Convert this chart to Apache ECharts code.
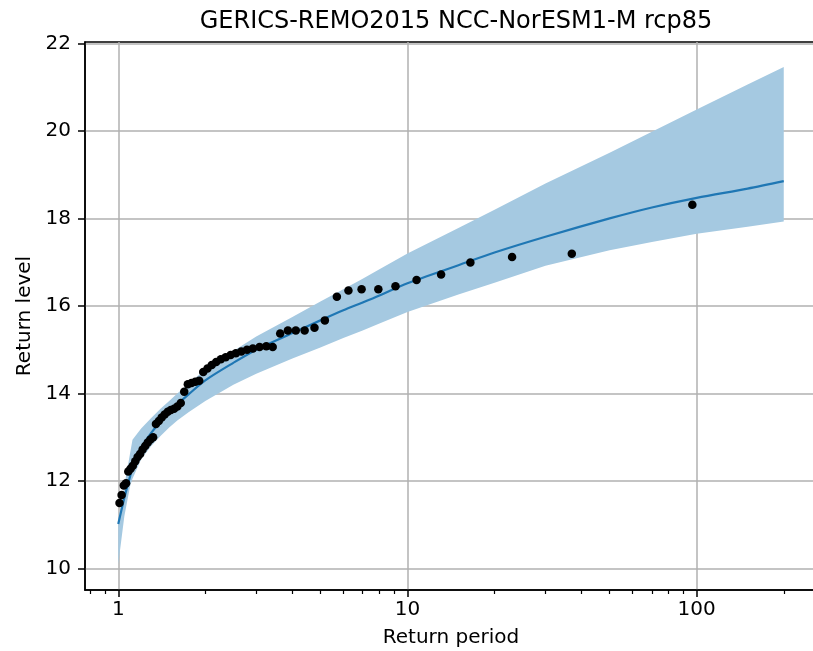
<!DOCTYPE html>
<html>
<head>
<meta charset="utf-8">
<script src="https://cdn.jsdelivr.net/npm/echarts@6/dist/echarts.min.js"></script>
<style>html,body{margin:0;padding:0;background:#fff}#c{width:813px;height:651px}</style>
</head>
<body>
<div id="c"></div>
<script>
// Fitted return-level curve and confidence band
const periods = [1.0, 1.05, 1.1, 1.12, 1.2, 1.3, 1.4, 1.5, 1.6, 1.75, 2, 2.5, 3, 4, 5, 6, 7, 8, 10, 15, 20, 30, 50, 70, 100, 150, 200];
const level   = [11.02, 11.62, 12.12, 12.32, 12.76, 13.1, 13.36, 13.57, 13.75, 13.98, 14.3, 14.7, 15.0, 15.38, 15.67, 15.9, 16.08, 16.24, 16.52, 16.93, 17.22, 17.58, 18.0, 18.25, 18.47, 18.68, 18.85];
const upper   = [11.12, 11.9, 12.65, 12.94, 13.2, 13.44, 13.65, 13.83, 14.0, 14.22, 14.55, 14.97, 15.3, 15.75, 16.1, 16.38, 16.62, 16.84, 17.2, 17.78, 18.2, 18.8, 19.5, 19.98, 20.49, 21.06, 21.46];
const lower   = [10.1, 11.2, 11.9, 12.05, 12.5, 12.8, 13.03, 13.22, 13.38, 13.57, 13.83, 14.2, 14.45, 14.8, 15.05, 15.27, 15.44, 15.6, 15.86, 16.26, 16.53, 16.92, 17.27, 17.46, 17.65, 17.81, 17.93];

// Observed annual maxima (plotting positions)
const obsPeriod = [96.6, 37.0, 23.0, 16.5, 13.07, 10.75, 9.09, 7.93, 6.94, 6.25, 5.70, 5.18, 4.77, 4.41, 4.11, 3.86, 3.63, 3.42, 3.25, 3.08, 2.92,
  2.787, 2.664, 2.551, 2.447, 2.352, 2.263, 2.181, 2.105, 2.034, 1.967, 1.905, 1.847, 1.792, 1.740, 1.691, 1.645, 1.601, 1.560, 1.520,
  1.483, 1.447, 1.413, 1.381, 1.350, 1.320, 1.292, 1.265, 1.239, 1.214, 1.190, 1.167, 1.145, 1.123, 1.103, 1.083, 1.064, 1.045, 1.027, 1.010];
const obsLevel = [18.31, 17.19, 17.12, 16.99, 16.72, 16.59, 16.45, 16.38, 16.38, 16.35, 16.21, 15.67, 15.50, 15.44, 15.44, 15.44, 15.37, 15.06, 15.08, 15.06, 15.03,
  15.00, 14.96, 14.92, 14.88, 14.83, 14.78, 14.72, 14.65, 14.57, 14.49, 14.29, 14.27, 14.24, 14.21, 14.04, 13.78, 13.70, 13.65, 13.62,
  13.58, 13.52, 13.45, 13.37, 13.30, 13.00, 12.95, 12.88, 12.80, 12.72, 12.62, 12.55, 12.45, 12.35, 12.28, 12.22, 11.95, 11.90, 11.68, 11.50];

// Axis ticks
const xMajorTicks = [1, 10, 100];
const xMinorTicks = [0.8, 0.9, 2, 3, 4, 5, 6, 7, 8, 9, 20, 30, 40, 50, 60, 70, 80, 90, 200];
const yTicks = [10, 12, 14, 16, 18, 20, 22];

const titleText = 'GERICS-REMO2015 NCC-NorESM1-M rcp85';
const xName = 'Return period';
const yName = 'Return level';

const FONT = 'DejaVu Sans';
const chart = echarts.init(document.getElementById('c'), null, {renderer: 'canvas'});

const xMin = 0.7674, xMax = 260.6, yMin = 9.51, yMax = 22.03;

chart.setOption({
  animation: false,
  backgroundColor: '#fff',
  title: {
    text: titleText, left: 451, top: 5, textAlign: 'center',
    textStyle: {fontFamily: FONT, fontSize: 24, fontWeight: 'normal', color: '#000'}
  },
  grid: {left: 85, top: 42, width: 732, height: 548, outerBoundsMode: 'none', containLabel: false,
         show: true, borderColor: '#000', borderWidth: 1.5, backgroundColor: 'transparent'},
  xAxis: [{
    type: 'log', logBase: 10, min: xMin, max: xMax,
    name: xName, nameLocation: 'middle', nameGap: 38,
    nameTextStyle: {fontFamily: FONT, fontSize: 20, color: '#000'},
    axisLine: {show: true, onZero: false, lineStyle: {color: '#000', width: 1.5}},
    axisTick: {show: true, inside: false, length: 7, lineStyle: {color: '#000', width: 1.5}, customValues: xMajorTicks},
    axisLabel: {show: true, margin: 10, fontFamily: FONT, fontSize: 20, color: '#000', customValues: xMajorTicks},
    splitLine: {show: true, lineStyle: {color: '#b0b0b0', width: 1.5}},
    minorTick: {show: false}, minorSplitLine: {show: false}
  }, {
    type: 'log', logBase: 10, min: xMin, max: xMax, position: 'bottom',
    axisLine: {show: false},
    axisTick: {show: true, inside: false, length: 4, lineStyle: {color: '#000', width: 1.2}, customValues: xMinorTicks},
    axisLabel: {show: false},
    splitLine: {show: false}
  }],
  yAxis: {
    type: 'value', min: yMin, max: yMax,
    name: yName, nameLocation: 'middle', nameGap: 50, nameRotate: 90,
    nameTextStyle: {fontFamily: FONT, fontSize: 20, color: '#000'},
    axisLine: {show: true, onZero: false, lineStyle: {color: '#000', width: 1.5}},
    axisTick: {show: true, inside: false, length: 7, lineStyle: {color: '#000', width: 1.5}, customValues: yTicks},
    axisLabel: {show: true, margin: 14, fontFamily: FONT, fontSize: 20, color: '#000', customValues: yTicks},
    splitLine: {show: true, lineStyle: {color: '#b0b0b0', width: 1.5}}
  },
  series: [{
    type: 'custom', silent: true, z: 1,
    data: [[periods[0], lower[0]]],
    renderItem: function (params, api) {
      const pts = [];
      for (let i = 0; i < periods.length; i++) pts.push(api.coord([periods[i], upper[i]]));
      for (let i = periods.length - 1; i >= 0; i--) pts.push(api.coord([periods[i], lower[i]]));
      return {type: 'polygon', shape: {points: pts, smooth: 0}, style: {fill: '#a5c9e1'}};
    }
  }, {
    type: 'line', z: 2, showSymbol: false, smooth: 0.3,
    data: periods.map((p, i) => [p, level[i]]),
    lineStyle: {color: '#1f77b4', width: 2.2}
  }, {
    type: 'scatter', z: 3, symbolSize: 8.5,
    data: obsPeriod.map((p, i) => [p, obsLevel[i]]),
    itemStyle: {color: '#000', opacity: 1}
  }]
});
</script>
</body>
</html>
